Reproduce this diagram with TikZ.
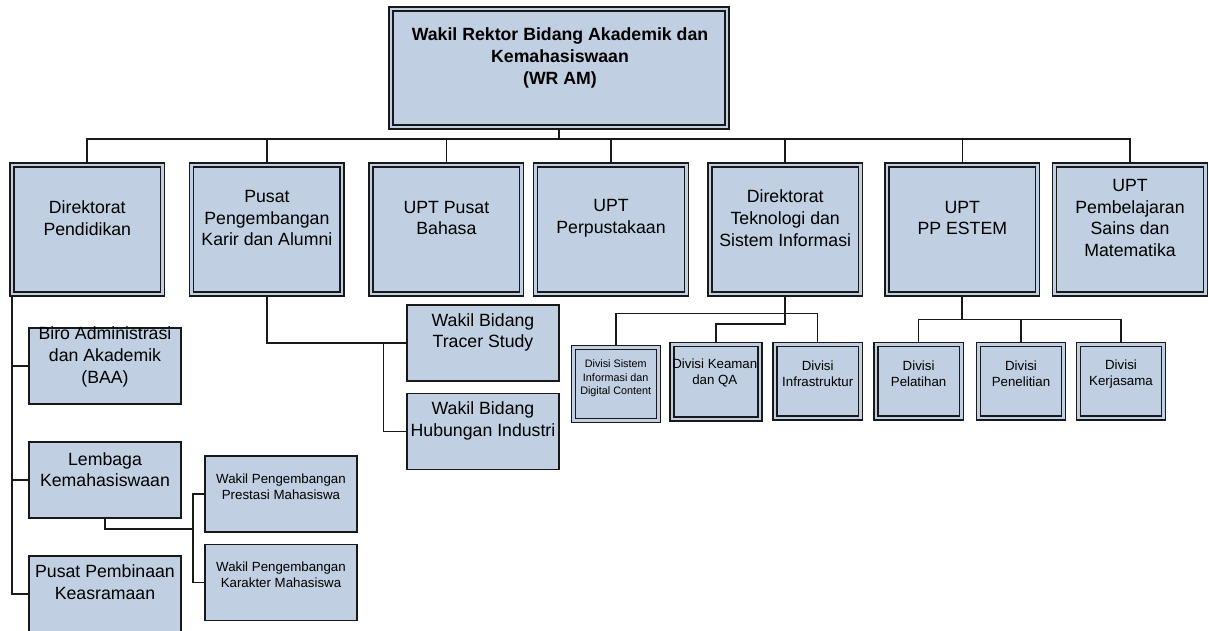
\documentclass[tikz,border=0pt]{standalone}
\usepackage{fontspec}
\setmainfont{Liberation Sans}
\usetikzlibrary{calc}
\definecolor{boxfill}{RGB}{192,207,225}
\definecolor{ink}{RGB}{25,25,25}
\pgfdeclarelayer{bottom}
\pgfdeclarelayer{background}
\pgfsetlayers{bottom,background,main}
\begin{document}
\begin{tikzpicture}[x=1pt,y=-1pt,
  dbox/.style={draw=ink, line width=1.4pt, double=boxfill, double distance=2.6pt, fill=boxfill, inner sep=0pt, outer sep=0pt},
  sbox/.style={draw=ink, line width=1.5pt, fill=boxfill, inner sep=0pt, outer sep=0pt},
  lone/.style={dbox, minimum width=150.5pt, minimum height=129pt},
  subbox/.style={sbox, minimum width=152pt, minimum height=76pt},
  divbox/.style={dbox, minimum width=85.5pt, minimum height=73.5pt},
  bigtxt/.style={inner sep=0pt, align=center, font=\fontsize{17.7}{21.7}\selectfont},
  midtxt/.style={inner sep=0pt, align=center, font=\fontsize{13.3}{16}\selectfont},
  smalltxt/.style={inner sep=0pt, align=center, font=\fontsize{10.8}{13.3}\selectfont},
  conn/.style={draw=ink, line width=1.5pt},
  thick conn/.style={draw=ink, line width=2pt}]
\useasboundingbox (0,0) rectangle (1209,630);
\clip (0,0) rectangle (1209,630);
\begin{pgfonlayer}{bottom}
\fill[white] (0,0) rectangle (1209,630);
\end{pgfonlayer}

% top box
\node[dbox, minimum width=336pt, minimum height=118pt] (wr) at (559,68) {};
\node[bigtxt, font=\fontsize{17.7}{22}\selectfont\bfseries] (wrt) at (560,58) {Wakil Rektor Bidang Akademik dan\\Kemahasiswaan\\(WR AM)};

% level 1
\node[lone] (dp) at (87.3,229.5) {};
\node[lone] (pp) at (266.9,229.5) {};
\node[lone] (bh) at (446.4,229.5) {};
\node[lone] (pr) at (611,229.5) {};
\node[lone] (dt) at (785.2,229.5) {};
\node[lone] (es) at (962.3,229.5) {};
\node[lone] (pb) at (1130,229.5) {};
\node[bigtxt] (dpt) at (87.3,218) {Direktorat\\Pendidikan};
\node[bigtxt] (ppt) at (266.9,218) {Pusat\\Pengembangan\\Karir dan Alumni};
\node[bigtxt] (bht) at (446.4,218) {UPT Pusat\\Bahasa};
\node[bigtxt] (prt) at (611,218) {UPT\\Perpustakaan};
\node[bigtxt] (dtt) at (785.2,218) {Direktorat\\Teknologi dan\\Sistem Informasi};
\node[bigtxt] (est) at (962.3,218) {UPT\\PP ESTEM};
\node[bigtxt] (pbt) at (1130,218) {UPT\\Pembelajaran\\Sains dan\\Matematika};

% Direktorat Pendidikan subtree
\node[subbox] (baa) at (105,366) {};
\node[subbox] (lk) at (105,480) {};
\node[subbox] (ppk) at (105,594) {};
\node[subbox] (wpp) at (281,494) {};
\node[subbox] (wpk) at (281,582.5) {};
\node[bigtxt] (baat) at (105,357) {Biro Administrasi\\dan Akademik\\(BAA)};
\node[bigtxt] (lkt) at (105,469.7) {Lembaga\\Kemahasiswaan};
\node[bigtxt] (ppkt) at (105,582.5) {Pusat Pembinaan\\Keasramaan};
\node[midtxt] (wppt) at (281,486.3) {Wakil Pengembangan\\Prestasi Mahasiswa};
\node[midtxt] (wpkt) at (281,574.7) {Wakil Pengembangan\\Karakter Mahasiswa};

% Pusat Pengembangan subtree
\node[subbox] (wts) at (483,343) {};
\node[subbox] (whi) at (483,431.5) {};
\node[bigtxt] (wtst) at (483,332.3) {Wakil Bidang\\Tracer Study};
\node[bigtxt] (whit) at (483,420.7) {Wakil Bidang\\Hubungan Industri};

% Direktorat Teknologi subtree
\node[dbox, minimum width=84.9pt, minimum height=72.8pt] (dsi) at (616,384) {};
\node[dbox, minimum width=88pt, minimum height=74.5pt] (dka) at (716,381.8) {};
\node[divbox] (din) at (817.7,381.4) {};
\node[smalltxt] (dsit) at (615.7,378.3) {Divisi Sistem\\Informasi dan\\Digital Content};
\node[midtxt] (dkat) at (714.8,373) {Divisi Keaman\\dan QA};
\node[midtxt] (dint) at (817.7,374) {Divisi\\Infrastruktur};

% UPT PP ESTEM subtree
\node[divbox] (dpl) at (918.6,381.3) {};
\node[divbox] (dpn) at (1021,381.3) {};
\node[divbox] (dkj) at (1121,381.3) {};
\node[midtxt] (dplt) at (918.6,374) {Divisi\\Pelatihan};
\node[midtxt] (dpnt) at (1021,374) {Divisi\\Penelitian};
\node[midtxt] (dkjt) at (1121,374) {Divisi\\Kerjasama};

% junction coordinates
\coordinate (bus) at (559,138.7);
\coordinate (lkj) at (193,529);
\coordinate (ppj) at (383.6,342.7);
\coordinate (dtbus) at (785.2,313.3);
\coordinate (dtj) at (785.2,324.3);
\coordinate (esbus) at (962.3,319.3);

\begin{pgfonlayer}{background}
  \draw[thick conn] (wr.south) -- (bus);
  \draw[thick conn] (dp.north) |- (bus) -| (pb.north);
  \draw[conn] (pp.north) -- (pp.north |- bus);
  \draw[conn, line width=1.1pt] (bh.north) -- (bh.north |- bus);
  \draw[conn] (pr.north) -- (pr.north |- bus);
  \draw[conn] (dt.north) -- (dt.north |- bus);
  \draw[conn] (es.north) -- (es.north |- bus);
  % Direktorat Pendidikan
  \draw[conn] (dp.south west) |- (ppk.west);
  \draw[conn] (dp.south west |- baa.west) -- (baa.west);
  \draw[conn] (dp.south west |- lk.west) -- (lk.west);
  \draw[conn] (lk.south) |- (lkj);
  \draw[conn] (wpp.west) -| (lkj) |- (wpk.west);
  % Pusat Pengembangan
  \draw[conn] (pp.south) |- (wts.west);
  \draw[conn] (ppj) |- (whi.west);
  % Direktorat Teknologi
  \draw[thick conn] (dt.south) -- (dtj) -| (dka.north);
  \draw[conn] (dsi.north) |- (dtbus) -| (din.north);
  % PP ESTEM
  \draw[thick conn] (es.south) -- (esbus);
  \draw[conn] (dpl.north) |- (esbus) -| (dkj.north);
  \draw[conn] (dpn.north) -- (dpn.north |- esbus);
\end{pgfonlayer}
\end{tikzpicture}
\end{document}
